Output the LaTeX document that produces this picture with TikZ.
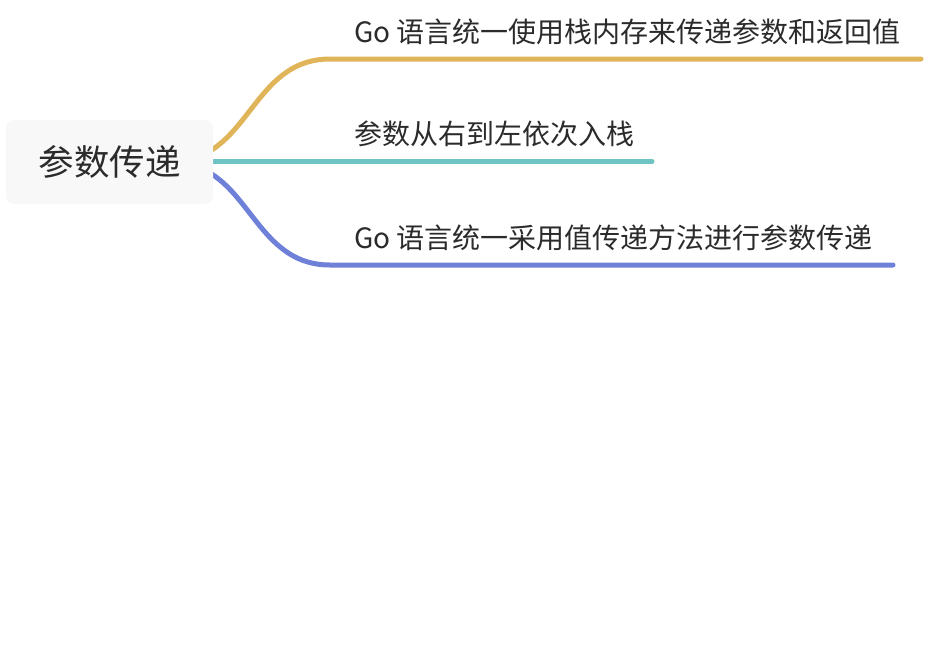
\documentclass[tikz,border=0pt]{standalone}
\usepackage{fontspec}
\setmainfont{Noto Sans CJK SC}
\definecolor{gold}{HTML}{E0B55A}
\definecolor{teal2}{HTML}{6EC4C2}
\definecolor{blue2}{HTML}{6E80D8}
\definecolor{txt}{HTML}{2B2B2B}
\definecolor{rootfill}{HTML}{F8F8F8}
\tikzset{
  branch/.style={line width=5pt, line cap=round},
  leaf/.style={anchor=west, inner sep=0pt, text=txt, font=\fontsize{28}{32}\selectfont},
  rootbox/.style={fill=rootfill, rounded corners=8pt, minimum width=207pt, minimum height=84pt, inner sep=0pt, text=txt, font=\fontsize{35.5}{40}\selectfont}
}
\begin{document}
\begin{tikzpicture}[x=1pt,y=-1pt]
\useasboundingbox (0,0) rectangle (926,645);
\coordinate (s) at (170,162);
\coordinate (g1) at (330,59);
\coordinate (g2) at (921,59);
\coordinate (t2) at (652,161.5);
\coordinate (b1) at (330,265);
\coordinate (b2) at (893,265);
\draw[branch, gold] (s) .. controls (250,162) and (250,59) .. (g1) -- (g2);
\draw[branch, blue2] (s) .. controls (250,162) and (250,265) .. (b1) -- (b2);
\draw[branch, teal2] (s |- t2) -- (t2);
\node[rootbox] (root) at (109.5,162) {参数传递};
\node[leaf] (l1) at (354,32) {Go 语言统一使用栈内存来传递参数和返回值};
\node[leaf] (l2) at (354,134) {参数从右到左依次入栈};
\node[leaf] (l3) at (354,238) {Go 语言统一采用值传递方法进行参数传递};
\end{tikzpicture}
\end{document}
